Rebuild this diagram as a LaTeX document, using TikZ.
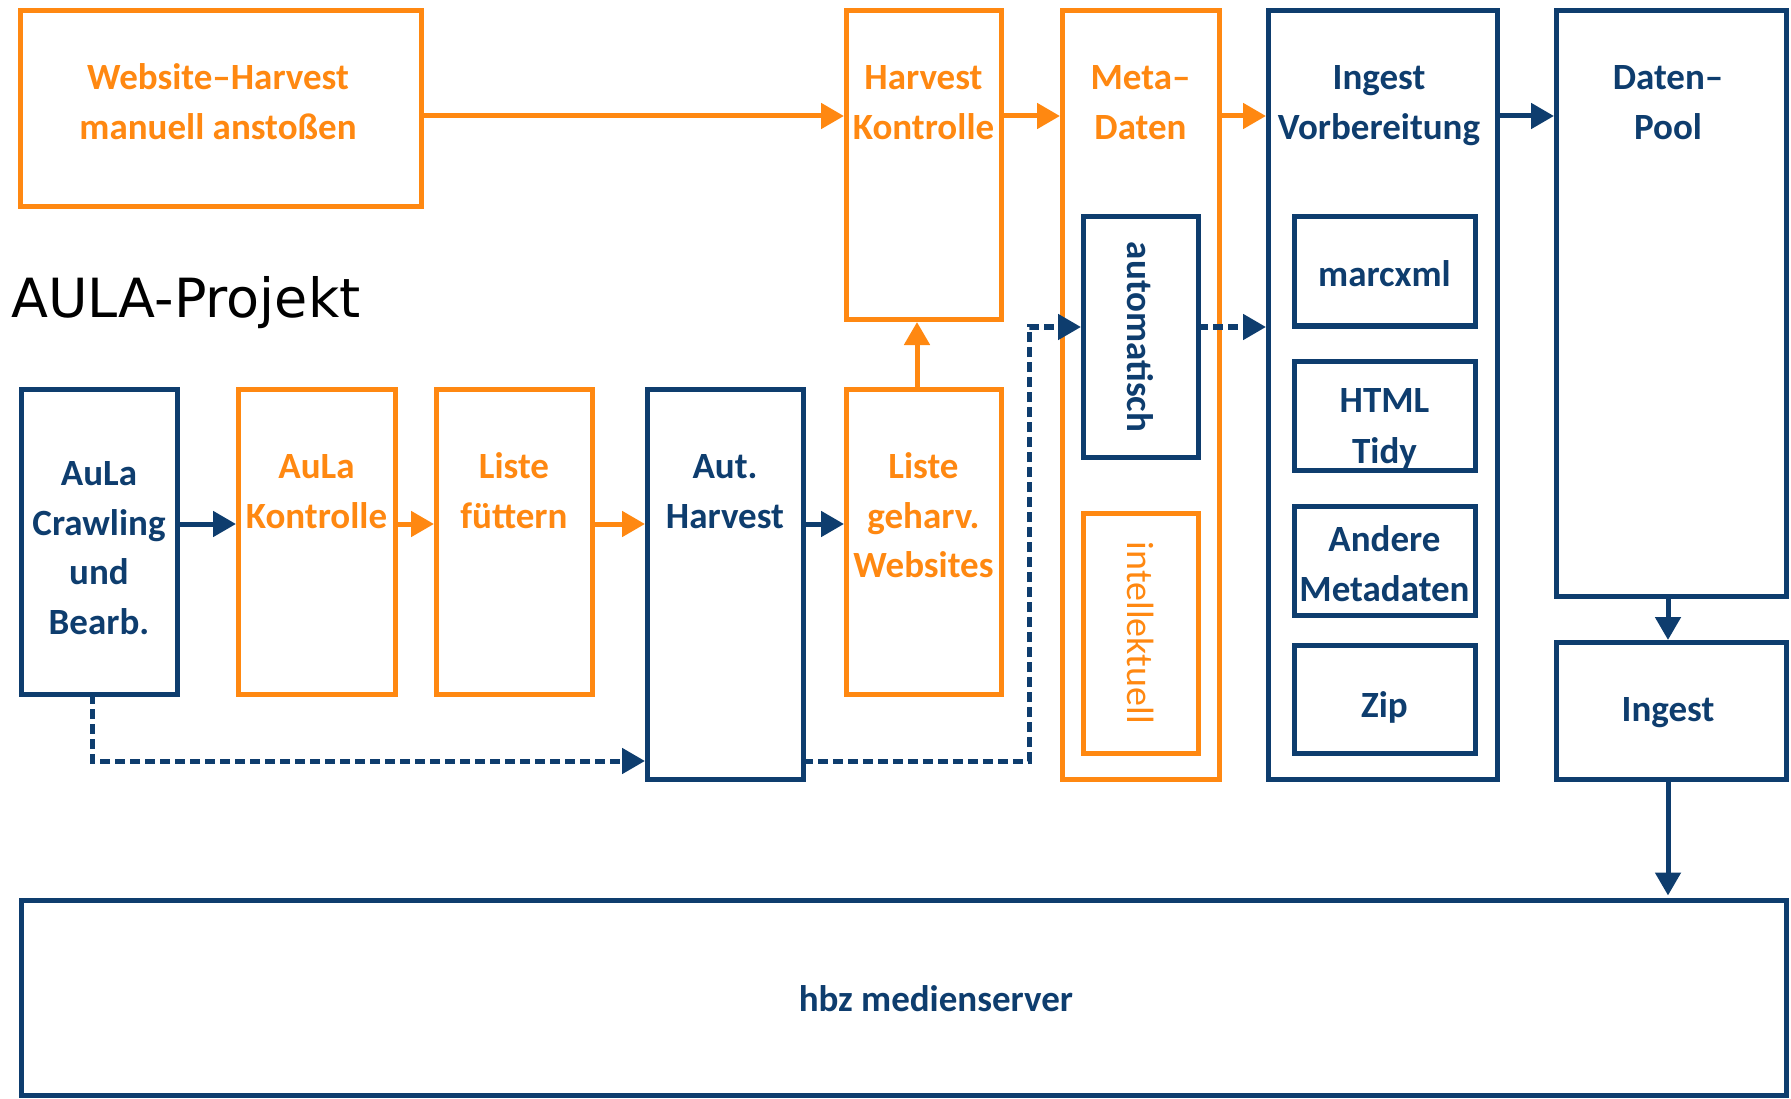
\documentclass[tikz,border=0pt]{standalone}
\usepackage{fontspec}
\setmainfont{Carlito}
\newfontfamily\titlefont{DejaVu Sans}
\usetikzlibrary{arrows.meta}
\definecolor{aorange}{RGB}{255,136,17}
\definecolor{anavy}{RGB}{14,61,110}
\begin{document}
\begin{tikzpicture}[x=1pt,y=-1pt,
  box/.style={draw, line width=5pt, inner sep=0pt, outer sep=0pt, rectangle},
  obox/.style={box, draw=aorange},
  nbox/.style={box, draw=anavy},
  lbl/.style={anchor=base, align=center, inner sep=0pt, font=\bfseries\fontsize{37}{49.5}\selectfont},
  olbl/.style={lbl, text=aorange},
  nlbl/.style={lbl, text=anavy},
  arr/.style={line width=5pt, -{Triangle[length=23pt,width=25pt]}, shorten >=2pt},
  oarr/.style={arr, draw=aorange},
  narr/.style={arr, draw=anavy},
  darr/.style={narr, line width=5pt, dash pattern=on 10pt off 5pt}
]
\useasboundingbox (0,0) rectangle (1791,1099);
% boxes
\node[obox, minimum width=401pt, minimum height=196pt] (web) at (220.5,109) {};
\node[obox, minimum width=155pt, minimum height=309pt] (hk) at (923.5,165.5) {};
\node[obox, minimum width=157pt, minimum height=768pt] (md) at (1140.5,395) {};
\node[nbox, minimum width=229pt, minimum height=768pt] (iv) at (1382.5,395) {};
\node[nbox, minimum width=230pt, minimum height=585pt] (dp) at (1671,303.5) {};
\node[nbox, minimum width=230pt, minimum height=137pt] (ing) at (1671,710.5) {};
\node[nbox, minimum width=115pt, minimum height=240pt] (auto) at (1140.5,337) {};
\node[obox, minimum width=115pt, minimum height=240pt] (intel) at (1140.5,633) {};
\node[nbox, minimum width=181pt, minimum height=109pt] (marc) at (1384.5,271.5) {};
\node[nbox, minimum width=181pt, minimum height=109pt] (tidy) at (1384.5,415.5) {};
\node[nbox, minimum width=181pt, minimum height=109pt] (andere) at (1384.5,560.5) {};
\node[nbox, minimum width=181pt, minimum height=108pt] (zip) at (1384.5,699) {};
\node[nbox, minimum width=156pt, minimum height=305pt] (crawl) at (99,541.5) {};
\node[obox, minimum width=157pt, minimum height=305pt] (akon) at (316.5,541.5) {};
\node[obox, minimum width=156pt, minimum height=305pt] (lf) at (514,541.5) {};
\node[nbox, minimum width=156pt, minimum height=390pt] (ah) at (725,584) {};
\node[obox, minimum width=155pt, minimum height=305pt] (lg) at (923.5,541.5) {};
\node[nbox, minimum width=1765pt, minimum height=195pt] (hbz) at (903.5,997.5) {};
% labels (anchor = baseline of the last line)
\node[olbl] (tweb) at (218,139.5) {Website–Harvest\\manuell anstoßen};
\node[olbl] (thk) at (923.5,139.5) {Harvest\\Kontrolle};
\node[olbl] (tmd) at (1140.5,139.5) {Meta–\\Daten};
\node[nlbl] (tiv) at (1379,139.5) {Ingest\\Vorbereitung};
\node[nlbl] (tdp) at (1668,139.5) {Daten–\\Pool};
\node[nlbl] (ting) at (1668,721) {Ingest};
\node[nlbl, anchor=center, rotate=-90] (tauto) at (1140.5,337) {automatisch};
\node[olbl, anchor=center, rotate=-90, font=\mdseries\fontsize{38}{49.5}\selectfont] (tintel) at (1140.5,633) {intellektuell};
\node[nlbl] (tmarc) at (1384.5,287) {marcxml};
\node[nlbl, font=\bfseries\fontsize{37}{51}\selectfont] (ttidy) at (1384.5,463) {HTML\\Tidy};
\node[nlbl] (tandere) at (1384.5,601) {Andere\\Metadaten};
\node[nlbl] (tzip) at (1384.5,717) {Zip};
\node[nlbl] (tcrawl) at (99,634) {AuLa\\Crawling\\und\\Bearb.};
\node[olbl] (takon) at (316.5,528) {AuLa\\Kontrolle};
\node[olbl] (tlf) at (514,528) {Liste\\füttern};
\node[nlbl] (tah) at (725,528) {Aut.\\Harvest};
\node[olbl] (tlg) at (923.5,577.5) {Liste\\geharv.\\Websites};
\node[nlbl] (thbz) at (936,1011) {hbz medienserver};
\node[anchor=base west, inner sep=0pt, font=\titlefont\fontsize{54}{62}\selectfont] (title) at (11,318) {AULA-Projekt};
% helper coordinates
\coordinate (rowA) at (0,116);
\coordinate (rowB) at (0,524);
\coordinate (colA) at (917,0);
\coordinate (colB) at (1668,0);
\coordinate (d1) at (92,761);
\coordinate (d2) at (1029,327);
% top row arrows
\draw[oarr] (web.east |- rowA) -- (hk.west |- rowA);
\draw[oarr] (hk.east |- rowA) -- (md.west |- rowA);
\draw[oarr] (md.east |- rowA) -- (iv.west |- rowA);
\draw[narr] (iv.east |- rowA) -- (dp.west |- rowA);
% bottom row arrows
\draw[narr] (crawl.east |- rowB) -- (akon.west |- rowB);
\draw[oarr] (akon.east |- rowB) -- (lf.west |- rowB);
\draw[oarr] (lf.east |- rowB) -- (ah.west |- rowB);
\draw[narr] (ah.east |- rowB) -- (lg.west |- rowB);
\draw[oarr] (lg.north -| colA) -- (hk.south -| colA);
\draw[narr] (dp.south -| colB) -- (ing.north -| colB);
\draw[narr, shorten >=4.5pt] (ing.south -| colB) -- (hbz.north -| colB);
% dashed connectors
\draw[darr] (crawl.south -| d1) |- (ah.west |- d1);
\draw[darr] (ah.east |- d1) -| (d2) -- (auto.west |- d2);
\draw[darr] (auto.east |- d2) -- (iv.west |- d2);
\end{tikzpicture}
\end{document}
